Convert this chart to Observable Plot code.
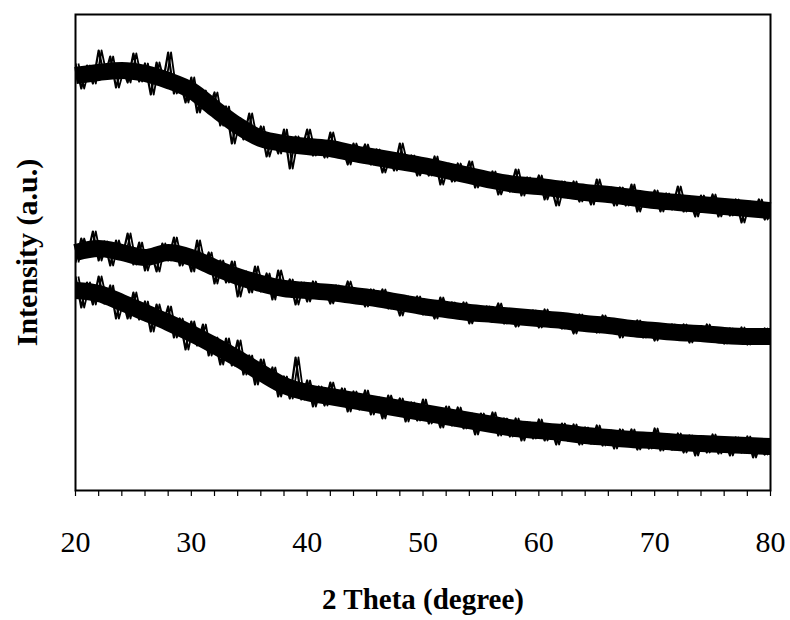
<!DOCTYPE html>
<html><head><meta charset="utf-8">
<script src="https://cdn.jsdelivr.net/npm/d3@7"></script>
<script src="https://cdn.jsdelivr.net/npm/@observablehq/plot@0.6"></script>
<style>body{margin:0;background:#fff}</style>
</head><body><div id="chart"></div>
<script>
// Scan: 2θ from 20° in 0.5° steps (intensity in arbitrary units)
const scanStart = 20, scanStep = 0.5;
const topSeries = [
427,402,425,407,440,413,434,403,424,408,
437,409,427,396,428,405,438,397,411,388,
413,378,400,382,398,365,384,347,372,351,
377,347,364,334,354,337,361,322,354,339,
361,335,349,333,358,334,345,326,347,331,
346,326,341,318,336,320,347,322,335,315,
330,315,334,306,327,309,327,311,329,303,
318,304,319,296,312,299,321,295,313,299,
315,291,307,285,309,293,309,289,303,286,
311,290,303,285,303,285,306,279,297,285,
300,279,297,281,304,279,292,274,295,279,
296,274,289,275,291,268,289,276,291,271,
286];
const midSeries = [
228,252,234,259,230,249,225,250,231,257,
226,248,220,240,219,247,230,253,225,240,
219,250,222,238,207,230,208,229,194,219,
198,224,199,217,191,220,197,211,186,208,
189,209,193,202,187,205,191,209,188,200,
184,201,188,201,182,194,175,194,180,194,
176,187,172,193,175,188,174,188,167,183,
170,184,172,187,167,180,164,178,167,180,
163,181,165,177,162,173,157,176,162,172,
158,175,161,171,153,169,156,170,153,165,
150,166,153,166,154,166,148,163,150,166,
151,161,147,162,148,163,146,158,148,162,
147];
const botSeries = [
214,183,208,186,214,187,205,172,194,172,
198,171,189,159,186,164,184,153,172,141,
169,145,166,135,153,126,152,125,150,116,
135,106,131,107,123,94,114,92,133,91,
110,84,104,85,108,86,102,79,99,81,
100,76,93,72,95,77,92,69,88,70,
91,67,82,63,84,65,83,62,77,56,
77,60,78,55,72,54,72,50,68,52,
71,50,65,46,67,50,66,46,63,47,
65,45,60,42,61,46,61,41,56,42,
62,40,56,41,57,38,55,35,54,38,
56,37,52,35,53,38,54,33,51,36,
50];
// Smoothed band centres, 2θ from 20° in 2° steps
const coreStart = 20, coreStep = 2;
const topCore = [415,418,420,417,410,400,382,365,352,347,344,342,337,333,329,325,320,315,310,306,304,301,298,296,293,290,288,286,284,282,280];
const midCore = [238,242,238,233,238,233,223,214,207,202,200,198,195,192,188,184,181,178,176,174,172,170,167,165,162,160,158,157,155,154,154];
const botCore = [200,197,188,178,168,157,145,132,118,105,98,94,90,86,82,78,74,70,66,62,60,58,55,53,51,50,48,47,46,45,44];

const majorTicks = [20,30,40,50,60,70,80];
const minorTicks = [20,22,24,26,28,30,32,34,36,38,40,42,44,46,48,50,52,54,56,58,60,62,64,66,68,70,72,74,76,78,80];
const xTitle = "2 Theta (degree)";
const yTitle = "Intensity (a.u.)";

function rows(arr, start, step, name) {
  return arr.map((v, i) => ({theta: start + i * step, intensity: v, series: name}));
}
const noisy = [
  ...rows(topSeries, scanStart, scanStep, "top"),
  ...rows(midSeries, scanStart, scanStep, "mid"),
  ...rows(botSeries, scanStart, scanStep, "bot")
];
const core = [
  ...rows(topCore, coreStart, coreStep, "top"),
  ...rows(midCore, coreStart, coreStep, "mid"),
  ...rows(botCore, coreStart, coreStep, "bot")
];

const chart = Plot.plot({
  width: 790, height: 620,
  marginLeft: 75, marginRight: 20, marginTop: 14, marginBottom: 130,
  style: {fontFamily: "'Liberation Serif','Times New Roman',serif", background: "#fff", color: "#000"},
  x: {domain: [20, 80]},
  y: {domain: [0, 476], axis: null},
  marks: [
    Plot.line(core, {x: "theta", y: "intensity", z: "series", stroke: "#000", strokeWidth: 17, strokeLinecap: "butt", curve: "monotone-x"}),
    Plot.line(noisy, {x: "theta", y: "intensity", z: "series", stroke: "#000", strokeWidth: 2.2, strokeLinecap: "butt", clip: true}),
    Plot.line(noisy, {x: "theta", y: "intensity", z: "series", stroke: "#000", strokeWidth: 1.8, strokeLinecap: "butt", dx: 2.9, clip: true}),
    Plot.frame({stroke: "#000", strokeWidth: 2}),
    Plot.axisX({ticks: minorTicks, tickSize: 6, tickFormat: () => "", label: null, stroke: "#000", strokeWidth: 1.2}),
    Plot.axisX({ticks: majorTicks, tickSize: 0, tickPadding: 40, fontSize: 30, label: null}),
    Plot.text([xTitle], {frameAnchor: "bottom", dy: 118, fontSize: 29, fontWeight: "bold"}),
    Plot.text([yTitle], {frameAnchor: "left", textAnchor: "middle", rotate: -90, dx: -48, fontSize: 30, fontWeight: "bold"})
  ]
});
document.getElementById("chart").appendChild(chart);
</script>
</body></html>
